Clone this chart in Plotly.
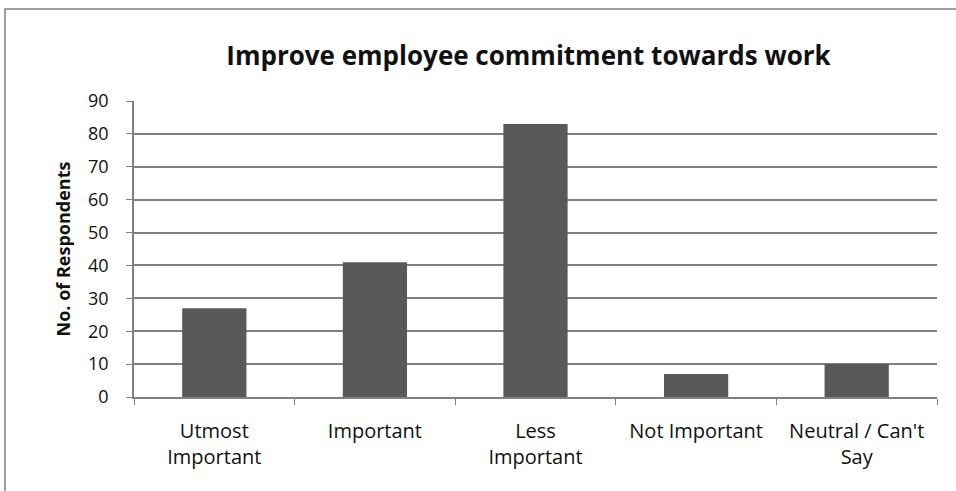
import plotly.graph_objects as go

categories = ["Utmost<br>Important", "Important", "Less<br>Important",
              "Not Important", "Neutral / Can't<br>Say"]
respondents = [27, 41, 83, 7, 10]
y_ticks = [0, 10, 20, 30, 40, 50, 60, 70, 80, 90]

W, H = 956, 491
L, R, T, B = 134, 19, 101, 94
pw, ph = W - L - R, H - T - B

fig = go.Figure(go.Bar(
    x=categories, y=respondents,
    marker=dict(color="#595959", line=dict(width=0)),
))

font_family = "Open Sans, DejaVu Sans, sans-serif"

fig.update_layout(
    width=W, height=H,
    margin=dict(l=L, r=R, t=T, b=B),
    paper_bgcolor="white", plot_bgcolor="white",
    bargap=0.6,
    showlegend=False,
    font=dict(family=font_family, color="#111111"),
    title=dict(
        text="<b>Improve employee commitment towards work</b>",
        x=(217 + 840) / 2 / W, xanchor="center",
        y=1 - 56 / H, yanchor="middle",
        font=dict(size=26, family=font_family, color="#111111"),
    ),
    xaxis=dict(
        showline=True, linecolor="#808080", linewidth=1.5,
        ticks="outside", tickson="boundaries", ticklen=6, tickcolor="#808080",
        tickfont=dict(size=20),
        ticklabelstandoff=15,
        showgrid=False,
    ),
    yaxis=dict(
        range=[0, 90], tickvals=y_ticks,
        showline=True, linecolor="#808080", linewidth=1.5,
        ticks="outside", ticklen=6, tickcolor="#808080",
        showgrid=True, gridcolor="#808080", gridwidth=1.5,
        tickfont=dict(size=18),
        ticklabelstandoff=14,
        title=dict(text="<b>No. of Respondents</b>", font=dict(size=18), standoff=13),
        zeroline=False,
    ),
    shapes=[dict(
        type="rect", xref="paper", yref="paper",
        x0=(5 - L) / pw, x1=(W + 5 - L) / pw,
        y0=-(H + 5 - (T + ph)) / ph, y1=1 + (T - 9) / ph,
        line=dict(color="#7f7f7f", width=1.5), fillcolor="rgba(0,0,0,0)",
        layer="below",
    )],
)

fig.write_html("out.html")
